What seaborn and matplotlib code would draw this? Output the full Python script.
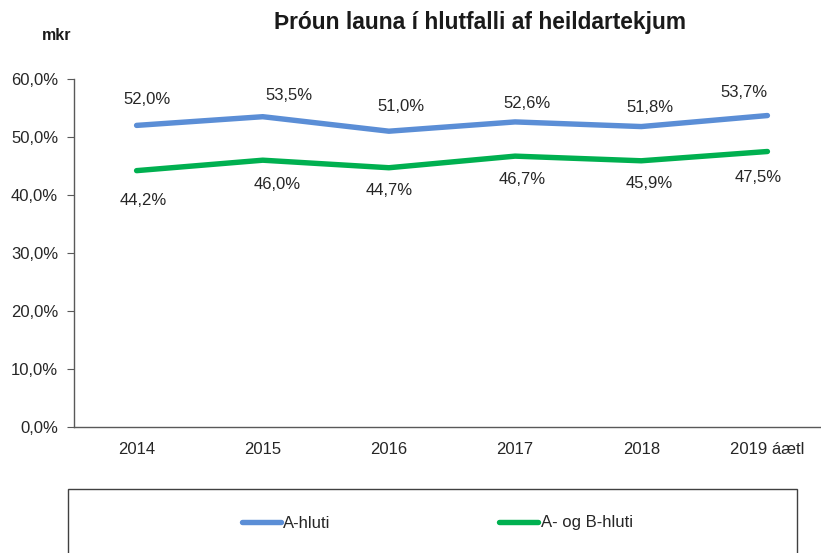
import numpy as np
import pandas as pd
import matplotlib
matplotlib.use("Agg")
import matplotlib.pyplot as plt
import seaborn as sns
from matplotlib.patches import Rectangle
from matplotlib.lines import Line2D

years = ["2014", "2015", "2016", "2017", "2018", "2019 áætl"]
a_hluti = [52.0, 53.5, 51.0, 52.6, 51.8, 53.7]
ab_hluti = [44.2, 46.0, 44.7, 46.7, 45.9, 47.5]
series_names = ["A-hluti", "A- og B-hluti"]
yticks = [0, 10, 20, 30, 40, 50, 60]

# label nudges in pixels (the original labels were placed by hand)
a_dx = [10, 26, 12, 12, 9, -23]
a_dy = [26, 21, 25, 18, 19, 23]
ab_dx = [7, 14, 0, 7, 8, -9]
ab_dy = [-30, -24, -23, -23, -23, -26]

sns.set_style("white")
plt.rcParams['font.family'] = ['Liberation Sans', 'DejaVu Sans']

df = pd.DataFrame({
    "ar": years * 2,
    "hlutfall": a_hluti + ab_hluti,
    "hluti": [series_names[0]] * len(years) + [series_names[1]] * len(years),
})
palette = {series_names[0]: "#5B8ED6", series_names[1]: "#00B050"}

fig = plt.figure(figsize=(8.21, 5.53), dpi=100)
W, H = 821, 553
ax = fig.add_axes([73.5 / W, 1 - 427 / H, 757 / W, (427 - 79) / H])

sns.lineplot(data=df, x="ar", y="hlutfall", hue="hluti", palette=palette,
             linewidth=3.9, legend=False, ax=ax, sort=False)
for ln in ax.lines:
    ln.set_solid_capstyle("round")
    ln.set_solid_joinstyle("round")

def fmt(v):
    return f"{v:.1f}%".replace(".", ",")

for i, v in enumerate(a_hluti):
    ax.annotate(fmt(v), (i, v), xytext=(a_dx[i], a_dy[i]), textcoords="offset pixels",
                ha="center", va="center", fontsize=12, color="#262626")
for i, v in enumerate(ab_hluti):
    ax.annotate(fmt(v), (i, v), xytext=(ab_dx[i], ab_dy[i]), textcoords="offset pixels",
                ha="center", va="center", fontsize=12, color="#262626")

ax.set_ylim(0, 60)
ax.set_xlim(-0.5, len(years) - 0.5)
ax.set_yticks(yticks)
ax.set_yticklabels([fmt(t) for t in yticks], fontsize=12, color="#262626")
ax.set_xticks(range(len(years)))
ax.set_xticklabels(years, fontsize=12, color="#262626")
ax.set_xticks(np.arange(-0.5, len(years) - 0.5, 1), minor=True)
ax.tick_params(axis="x", which="major", length=0, pad=11)
ax.tick_params(axis="x", which="minor", length=4, color="#595959", direction="out")
ax.tick_params(axis="y", length=5, color="#595959", direction="out", left=True, pad=6)
ax.set_xlabel("")
ax.set_ylabel("")
for s in ["top", "right"]:
    ax.spines[s].set_visible(False)
for s in ["left", "bottom"]:
    ax.spines[s].set_color("#595959")
    ax.spines[s].set_linewidth(1.0)

fig.text(480 / W, 1 - 22 / H, "Þróun launa í hlutfalli af heildartekjum",
         ha="center", va="center", fontsize=16.4, fontweight="bold", color="#1a1a1a")
fig.text(57 / W, 1 - 35 / H, "mkr", ha="center", va="center", fontsize=11.5,
         fontweight="bold", color="#1a1a1a")

# legend box, cut off by the bottom edge like the original
fig.patches.append(Rectangle((68 / W, -0.05), (797 - 68) / W, 0.05 + (553 - 489) / H,
                             transform=fig.transFigure, fill=False,
                             edgecolor="#404040", linewidth=1.0))
handles = [Line2D([], [], color=palette[n], linewidth=3.9, solid_capstyle="round") for n in series_names]
fig.legend(handles, series_names, loc="center left", bbox_to_anchor=(241.5 / W, 1 - 523 / H),
           ncol=2, frameon=False, fontsize=12, handlelength=2.35, handletextpad=0.15,
           columnspacing=10.1, borderpad=0, borderaxespad=0)

fig.savefig("out.png", dpi=100)
